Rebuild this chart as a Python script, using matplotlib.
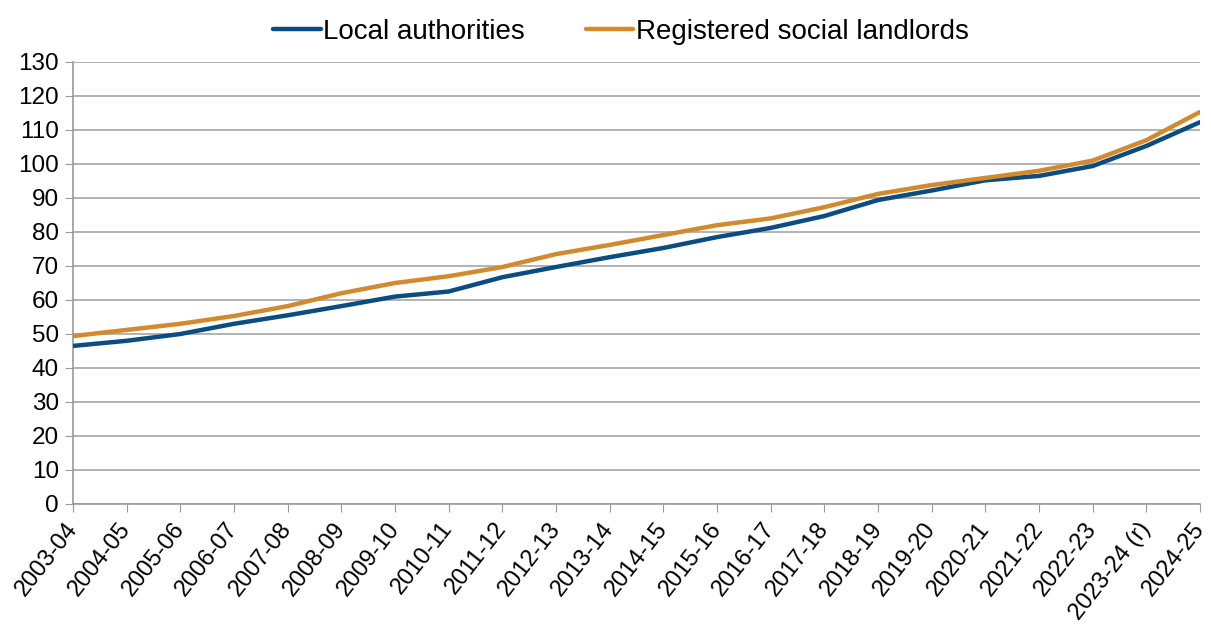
import matplotlib
matplotlib.use("Agg")
import matplotlib.pyplot as plt

years = ["2003-04", "2004-05", "2005-06", "2006-07", "2007-08", "2008-09", "2009-10",
         "2010-11", "2011-12", "2012-13", "2013-14", "2014-15", "2015-16", "2016-17",
         "2017-18", "2018-19", "2019-20", "2020-21", "2021-22", "2022-23", "2023-24 (r)",
         "2024-25"]
local_authorities = [46.5, 48.0, 50.0, 53.0, 55.5, 58.2, 61.0, 62.5, 66.7, 69.7, 72.6,
                     75.3, 78.5, 81.2, 84.7, 89.4, 92.2, 95.2, 96.5, 99.4, 105.3, 112.3]
registered_social_landlords = [49.4, 51.2, 53.0, 55.3, 58.2, 62.0, 65.0, 67.0, 69.7, 73.5,
                               76.2, 79.1, 82.0, 84.0, 87.3, 91.2, 93.8, 95.9, 98.0, 101.0,
                               107.0, 115.3]
yticks = list(range(0, 131, 10))

plt.rcParams['font.family'] = ['Liberation Sans', 'DejaVu Sans']

fig = plt.figure(figsize=(12.11, 6.34), dpi=100)
ax = fig.add_axes([73/1211, 1 - 504/634, (1200 - 73)/1211, (504 - 62)/634])

x = list(range(len(years)))
ax.plot(x, local_authorities, color="#0b4d80", lw=3.2, label="Local authorities",
        solid_capstyle="round", zorder=3)
ax.plot(x, registered_social_landlords, color="#d28a2e", lw=3.2,
        label="Registered social landlords", solid_capstyle="round", zorder=3)

ax.set_xlim(0, len(years) - 1)
ax.set_ylim(0, 130)
ax.set_yticks(yticks)
ax.set_yticklabels([str(v) for v in yticks], fontsize=17.5)
ax.set_xticks(x)
ax.set_xticklabels(years, rotation=52, ha="right", va="center", rotation_mode="anchor",
                   fontsize=17)
ax.tick_params(axis="x", length=6, color="#999999", pad=9)
ax.tick_params(axis="y", length=6, color="#999999", pad=4)

ax.grid(axis="y", color="#a6a6a6", lw=1.2)
ax.set_axisbelow(True)
for s in ["top", "right"]:
    ax.spines[s].set_visible(False)
for s in ["left", "bottom"]:
    ax.spines[s].set_color("#999999")
    ax.spines[s].set_linewidth(1.2)

leg = fig.legend(loc="upper center", bbox_to_anchor=(0.513, 1.01), ncol=2, frameon=False,
                 fontsize=20, handlelength=1.7, handletextpad=0.1, columnspacing=2.2)

fig.savefig("out.png", dpi=100)
